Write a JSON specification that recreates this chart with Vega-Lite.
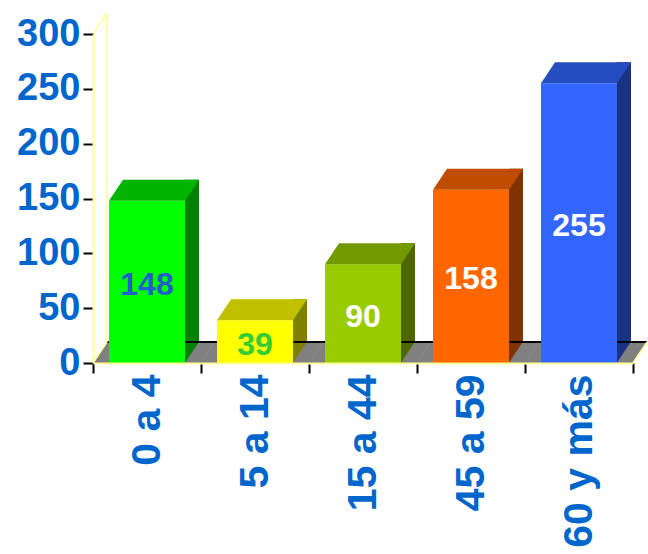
{
  "$schema": "https://vega.github.io/schema/vega-lite/v6.json",
  "width": 540,
  "height": 329,
  "autosize": {"type": "none"},
  "padding": {"left": 93, "top": 34, "right": 15, "bottom": 191},
  "background": "white",
  "config": {"view": {"stroke": null}, "font": "Liberation Sans"},
  "data": {"values": [
    {"grupo": "0 a 4", "v": 148},
    {"grupo": "5 a 14", "v": 39},
    {"grupo": "15 a 44", "v": 90},
    {"grupo": "45 a 59", "v": 158},
    {"grupo": "60 y más", "v": 255}
  ]},
  "encoding": {
    "x": {
      "field": "grupo", "type": "nominal", "sort": null,
      "scale": {"type": "band", "paddingInner": 0, "paddingOuter": 0, "domain": ["0 a 4", "5 a 14", "15 a 44", "45 a 59", "60 y más"]},
      "axis": {
        "title": null, "labelAngle": -90, "labelAlign": "right", "labelBaseline": "middle",
        "labelFont": "Liberation Sans", "labelFontSize": 41, "labelFontWeight": "bold", "labelColor": "#0066cc",
        "labelPadding": 1, "labelLimit": 0, "labelOverlap": false, "tickBand": "extent", "tickSize": 10, "tickWidth": 2, "tickColor": "black",
        "domainColor": "#ffff99", "domainWidth": 2, "zindex": 1, "grid": false
      }
    }
  },
  "layer": [
    {
      "mark": {"type": "point", "shape": "M-54,0 L-40,-21 L68,-21 L54,0 Z", "size": 4, "filled": true, "opacity": 1, "color": "#808080", "stroke": "#808080", "strokeWidth": 0.5},
      "encoding": {"y": {"datum": 0, "type": "quantitative", "scale": {"domain": [0, 300], "nice": false},
        "axis": {"title": null, "values": [0, 50, 100, 150, 200, 250, 300], "labelFont": "Liberation Sans", "labelFontSize": 38, "labelFontWeight": "bold", "labelColor": "#0066cc", "labelPadding": 3, "tickSize": 10, "tickWidth": 2, "tickColor": "black", "domainColor": "#ffff99", "domainWidth": 2, "grid": false, "zindex": 1}}}
    },
    {
      "mark": {"type": "point", "shape": "M-40,-21 L68,-21", "size": 4, "filled": false, "opacity": 1, "stroke": "black", "strokeWidth": 2},
      "encoding": {"y": {"datum": 0, "type": "quantitative"}}
    },
    {
      "data": {"values": [{}]},
      "mark": {"type": "point", "shape": "M-54,0 L-40,-21", "size": 4, "filled": false, "opacity": 1, "stroke": "#ffff99", "strokeWidth": 1.5},
      "encoding": {"x": {"datum": "0 a 4"}, "y": {"datum": 0, "type": "quantitative"}}
    },
    {
      "data": {"values": [{}]},
      "mark": {"type": "point", "shape": "M-54,0 L-40,-21", "size": 4, "filled": false, "opacity": 1, "stroke": "#ffff99", "strokeWidth": 1.5},
      "encoding": {"x": {"datum": "0 a 4"}, "y": {"datum": 300, "type": "quantitative"}}
    },
    {
      "data": {"values": [{}]},
      "mark": {"type": "point", "shape": "M54,0 L68,-21", "size": 4, "filled": false, "opacity": 1, "stroke": "#ffff99", "strokeWidth": 1.5},
      "encoding": {"x": {"datum": "60 y más"}, "y": {"datum": 0, "type": "quantitative"}}
    },
    {
      "data": {"values": [{}]},
      "mark": {"type": "rule", "xOffset": 14, "yOffset": -21, "y2Offset": -21, "color": "#ffff99", "strokeWidth": 1.5},
      "encoding": {"x": {"datum": "0 a 4", "bandPosition": 0}, "y": {"datum": 0, "type": "quantitative"}, "y2": {"datum": 300}}
    },
    {
      "mark": {"type": "bar", "width": 14, "xOffset": 45, "yOffset": -21},
      "encoding": {
        "y": {"field": "v", "type": "quantitative"},
        "y2": {"datum": 0},
        "color": {"field": "grupo", "type": "nominal", "legend": null,
          "scale": {"domain": ["0 a 4", "5 a 14", "15 a 44", "45 a 59", "60 y más"], "range": ["#008000", "#808000", "#4d6600", "#803300", "#1a3380"]}}
      }
    },
    {
      "mark": {"type": "point", "shape": "M38,0 L52,-21 L52,0 Z", "size": 4, "filled": true, "opacity": 1, "color": "#808080", "stroke": "#808080", "strokeWidth": 0.5},
      "encoding": {"y": {"datum": 0, "type": "quantitative"}}
    },
    {
      "mark": {"type": "point", "shape": "M38.5,-21 L54,-21", "size": 4, "filled": false, "opacity": 1, "stroke": "black", "strokeWidth": 2},
      "encoding": {"y": {"datum": 0, "type": "quantitative"}}
    },
    {
      "mark": {"type": "bar", "width": 76},
      "encoding": {
        "y": {"field": "v", "type": "quantitative"},
        "y2": {"datum": 0},
        "color": {"field": "grupo", "type": "nominal", "legend": null,
          "scale": {"domain": ["0 a 4", "5 a 14", "15 a 44", "45 a 59", "60 y más"], "range": ["#00ff00", "#ffff00", "#99cc00", "#ff6600", "#3366ff"]}}
      }
    },
    {
      "mark": {"type": "point", "shape": "M-38,0 L38,0 L52,-21 L-24,-21 Z", "size": 4, "filled": true, "opacity": 1},
      "encoding": {
        "y": {"field": "v", "type": "quantitative"},
        "color": {"field": "grupo", "type": "nominal", "legend": null,
          "scale": {"domain": ["0 a 4", "5 a 14", "15 a 44", "45 a 59", "60 y más"], "range": ["#00b400", "#c0c000", "#739900", "#bf4c00", "#264dbf"]}}
      }
    },
    {
      "transform": [{"calculate": "datum.v / 2", "as": "mitad"}],
      "mark": {"type": "text", "font": "Liberation Sans", "fontSize": 32, "fontWeight": "bold", "baseline": "middle", "align": "center", "dy": 3},
      "encoding": {
        "y": {"field": "mitad", "type": "quantitative"},
        "text": {"field": "v", "type": "quantitative"},
        "color": {"field": "grupo", "type": "nominal", "legend": null,
          "scale": {"domain": ["0 a 4", "5 a 14", "15 a 44", "45 a 59", "60 y más"], "range": ["#1f5fcc", "#33cc33", "#ffffff", "#ffffff", "#ffffff"]}}
      }
    }
  ],
  "resolve": {"scale": {"color": "independent"}}
}
